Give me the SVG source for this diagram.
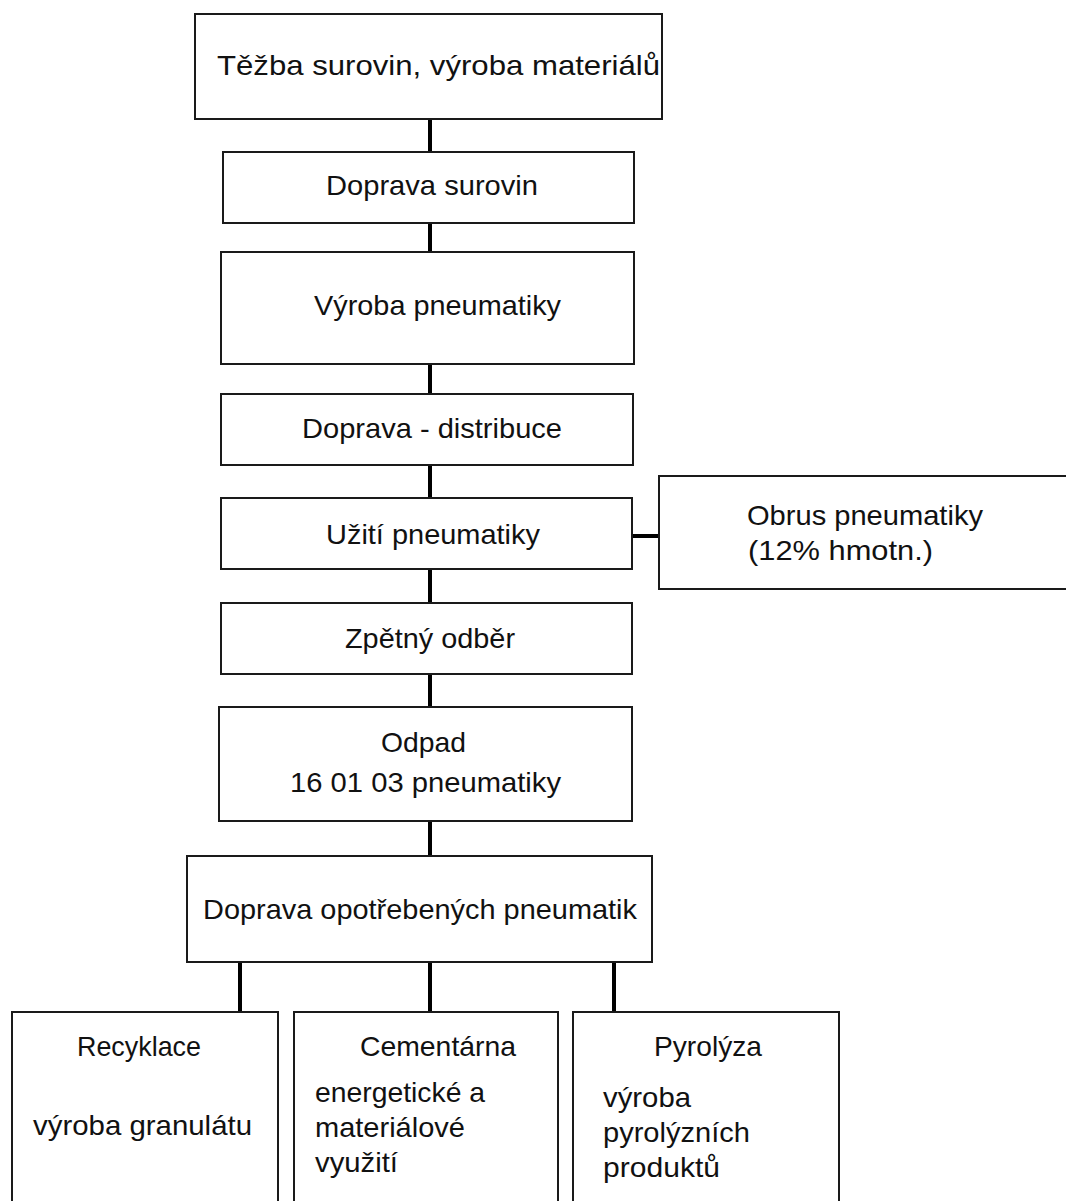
<svg xmlns="http://www.w3.org/2000/svg" width="1066" height="1201" viewBox="0 0 1066 1201">
<style>
.box{fill:#fff;stroke:#1a1a1a;stroke-width:2}
.con{stroke:#000;stroke-width:4;fill:none}
text{font-family:"Liberation Sans",Arial,sans-serif;font-size:28px;fill:#111}
</style>
<rect width="1066" height="1201" fill="#fff"/>
<g id="connectors">
<line class="con" x1="430" y1="119" x2="430" y2="152"/>
<line class="con" x1="430" y1="223" x2="430" y2="252"/>
<line class="con" x1="430" y1="364" x2="430" y2="394"/>
<line class="con" x1="430" y1="465" x2="430" y2="498"/>
<line class="con" x1="632" y1="536" x2="659" y2="536"/>
<line class="con" x1="430" y1="569" x2="430" y2="603"/>
<line class="con" x1="430" y1="674" x2="430" y2="707"/>
<line class="con" x1="430" y1="821" x2="430" y2="856"/>
<line class="con" x1="240" y1="962" x2="240" y2="1012"/>
<line class="con" x1="430" y1="962" x2="430" y2="1012"/>
<line class="con" x1="614" y1="962" x2="614" y2="1012"/>
</g>
<g id="n1"><rect class="box" x="195" y="14" width="467" height="105"/><text x="217" y="75" textLength="443" lengthAdjust="spacingAndGlyphs">Těžba surovin, výroba materiálů</text></g>
<g id="n2"><rect class="box" x="223" y="152" width="411" height="71"/><text x="326" y="195" textLength="212" lengthAdjust="spacingAndGlyphs">Doprava surovin</text></g>
<g id="n3"><rect class="box" x="221" y="252" width="413" height="112"/><text x="314" y="315" textLength="247" lengthAdjust="spacingAndGlyphs">Výroba pneumatiky</text></g>
<g id="n4"><rect class="box" x="221" y="394" width="412" height="71"/><text x="302" y="438" textLength="260" lengthAdjust="spacingAndGlyphs">Doprava - distribuce</text></g>
<g id="n5"><rect class="box" x="221" y="498" width="411" height="71"/><text x="326" y="544" textLength="214" lengthAdjust="spacingAndGlyphs">Užití pneumatiky</text></g>
<g id="n5b"><rect class="box" x="659" y="476" width="420" height="113"/><text x="747" y="525" textLength="236" lengthAdjust="spacingAndGlyphs">Obrus pneumatiky</text><text x="748" y="560" textLength="185" lengthAdjust="spacingAndGlyphs">(12% hmotn.)</text></g>
<g id="n6"><rect class="box" x="221" y="603" width="411" height="71"/><text x="345" y="648" textLength="170" lengthAdjust="spacingAndGlyphs">Zpětný odběr</text></g>
<g id="n7"><rect class="box" x="219" y="707" width="413" height="114"/><text x="381" y="752" textLength="85" lengthAdjust="spacingAndGlyphs">Odpad</text><text x="290" y="792" textLength="271" lengthAdjust="spacingAndGlyphs">16 01 03 pneumatiky</text></g>
<g id="n8"><rect class="box" x="187" y="856" width="465" height="106"/><text x="203" y="919" textLength="434" lengthAdjust="spacingAndGlyphs">Doprava opotřebených pneumatik</text></g>
<g id="n9"><rect class="box" x="12" y="1012" width="266" height="220"/><text x="77" y="1056" textLength="124" lengthAdjust="spacingAndGlyphs">Recyklace</text><text x="33" y="1135" textLength="219" lengthAdjust="spacingAndGlyphs">výroba granulátu</text></g>
<g id="n10"><rect class="box" x="294" y="1012" width="264" height="220"/><text x="360" y="1056" textLength="156" lengthAdjust="spacingAndGlyphs">Cementárna</text><text x="315" y="1102" textLength="170" lengthAdjust="spacingAndGlyphs">energetické a</text><text x="315" y="1137" textLength="150" lengthAdjust="spacingAndGlyphs">materiálové</text><text x="315" y="1172" textLength="83" lengthAdjust="spacingAndGlyphs">využití</text></g>
<g id="n11"><rect class="box" x="573" y="1012" width="266" height="220"/><text x="654" y="1056" textLength="108" lengthAdjust="spacingAndGlyphs">Pyrolýza</text><text x="603" y="1107" textLength="88" lengthAdjust="spacingAndGlyphs">výroba</text><text x="603" y="1142" textLength="147" lengthAdjust="spacingAndGlyphs">pyrolýzních</text><text x="603" y="1177" textLength="117" lengthAdjust="spacingAndGlyphs">produktů</text></g>
</svg>
